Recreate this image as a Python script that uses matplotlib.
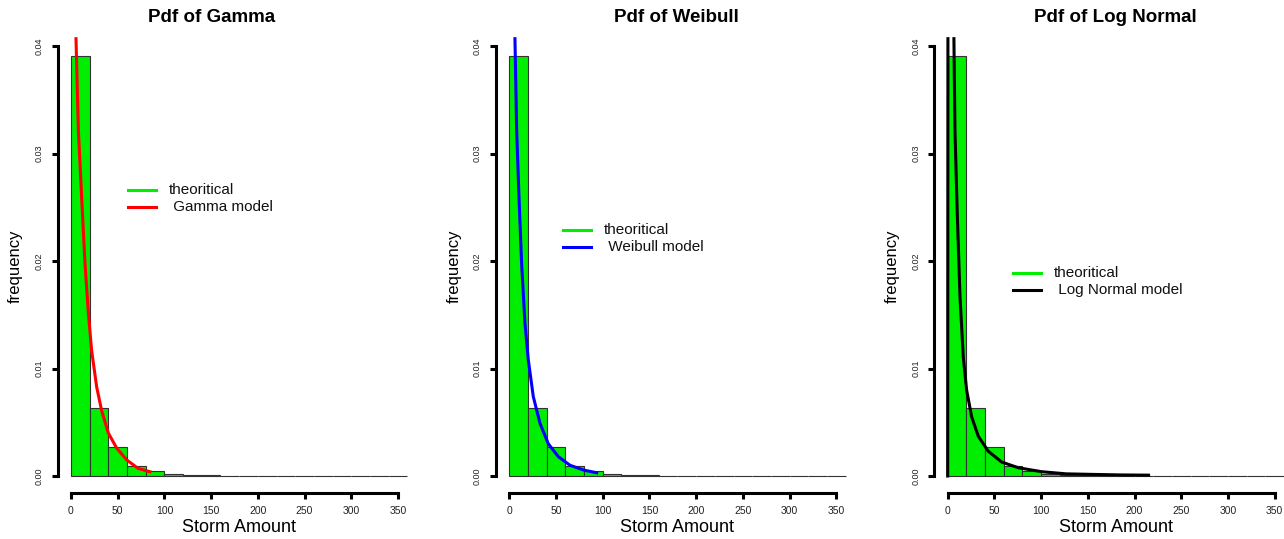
"""Histogram of storm amounts with fitted Gamma, Weibull and Log Normal pdfs."""

import numpy as np
import matplotlib.pyplot as plt

plt.rcParams['font.family'] = ['Liberation Sans', 'DejaVu Sans']

# histogram (density) of storm amounts, 20-unit bins from 0 to 360
bin_edges = list(range(0, 380, 20))
density = [0.0391, 0.00636, 0.00273, 0.00093, 0.00047, 0.00015, 0.00014, 0.00005,
           0, 0, 0, 0, 0, 0, 0, 0, 0, 0]

# fitted curves
gamma_x = [5.4, 7.9, 11.4, 15.0, 18.6, 22.1, 27.5, 32.8, 40.0, 48.9, 59.6, 72.0, 84.6]
gamma_y = [0.0407, 0.0322, 0.026, 0.0198, 0.0152, 0.0117, 0.0083, 0.0061, 0.0040,
           0.0026, 0.0015, 0.0007, 0.0004]

weibull_x = [6.1, 7.9, 10.4, 13.2, 16.8, 20.4, 25.7, 32.9, 41.8, 52.5, 65.0, 79.3, 93.6]
weibull_y = [0.0407, 0.0322, 0.026, 0.0198, 0.0142, 0.0108, 0.0074, 0.0049, 0.0030,
             0.0018, 0.0010, 0.00056, 0.0003]

lnorm_x = [0.0, 0.3, np.nan, 6.7, 7.8, 10.3, 13.2, 16.7, 20.3, 25.7, 32.8, 43.5, 57.8,
           75.6, 100.6, 127.0, 155.0, 185.0, 215.0]
lnorm_y = [0.0, 0.0407, np.nan, 0.0407, 0.0322, 0.0244, 0.0167, 0.0111, 0.0080, 0.0055,
           0.0037, 0.0023, 0.0013, 0.00077, 0.0004, 0.0002, 0.00015, 0.0001, 0.00008]

panels = [
    ('Pdf of Gamma', 'Gamma model', 'red', gamma_x, gamma_y),
    ('Pdf of Weibull', 'Weibull model', 'blue', weibull_x, weibull_y),
    ('Pdf of Log Normal', 'Log Normal model', 'black', lnorm_x, lnorm_y),
]

W, H = 1284, 539
fig = plt.figure(figsize=(W / 100, H / 100), dpi=100)

ax_left = [57.5, 495.8, 934.2]       # pixel x of each plot region
title_x = [212, 676, 1115]
ylab_x = [15, 454, 892]
legend_xy = [(128, 190), (563, 230), (1013, 273)]   # pixel position of legend lines
ax_w, ax_top, ax_bot = 363.3, 29.0, 493.2

for i, (title, model, color, cx, cy) in enumerate(panels):
    ax = fig.add_axes([ax_left[i] / W, (H - ax_bot) / H, ax_w / W, (ax_bot - ax_top) / H])
    ax.bar(bin_edges[:-1], density, width=20, align='edge', color='#00ee00',
           edgecolor='#333333', linewidth=0.8)
    ax.plot(cx, cy, color=color, lw=2.2)
    ax.set_xlim(-14.4, 374.4)
    ax.set_ylim(-0.0016, 0.0416)

    for side in ['top', 'right']:
        ax.spines[side].set_visible(False)
    ax.spines['left'].set_bounds(0, 0.04)
    ax.spines['bottom'].set_bounds(0, 350)
    for side in ['left', 'bottom']:
        ax.spines[side].set_linewidth(2.2)
    ax.set_xticks(range(0, 351, 50))
    ax.set_yticks([0, 0.01, 0.02, 0.03, 0.04])
    ax.set_yticklabels(['0.00', '0.01', '0.02', '0.03', '0.04'], rotation=90, va='center')
    ax.tick_params(axis='both', length=4, width=2.2, color='black')
    ax.tick_params(axis='x', labelsize=7.5, pad=5, labelcolor='#222222')
    ax.tick_params(axis='y', labelsize=6.5, pad=6, labelcolor='#222222')

    fig.text(title_x[i] / W, 1 - 17 / H, title, ha='center', va='center',
             fontsize=13.5, fontweight='bold')
    fig.text((ax_left[i] + ax_w / 2) / W, 1 - 528 / H, 'Storm Amount',
             ha='center', va='center', fontsize=13)
    fig.text(ylab_x[i] / W, 1 - 266 / H, 'frequency', ha='center', va='center',
             rotation=90, fontsize=12)

    # legend without a box, drawn R-style
    lx, ly = legend_xy[i]
    for j, (lab, c) in enumerate([('theoritical', '#00ee00'), (' ' + model, color)]):
        yy = 1 - (ly + 17 * j) / H
        fig.lines.append(plt.Line2D([lx / W, (lx + 28) / W], [yy, yy], color=c, lw=2.2,
                                    transform=fig.transFigure))
        fig.text((lx + 41) / W, yy, lab, ha='left', va='center', fontsize=11,
                 color='#111111')

fig.savefig('out.png', dpi=100)
